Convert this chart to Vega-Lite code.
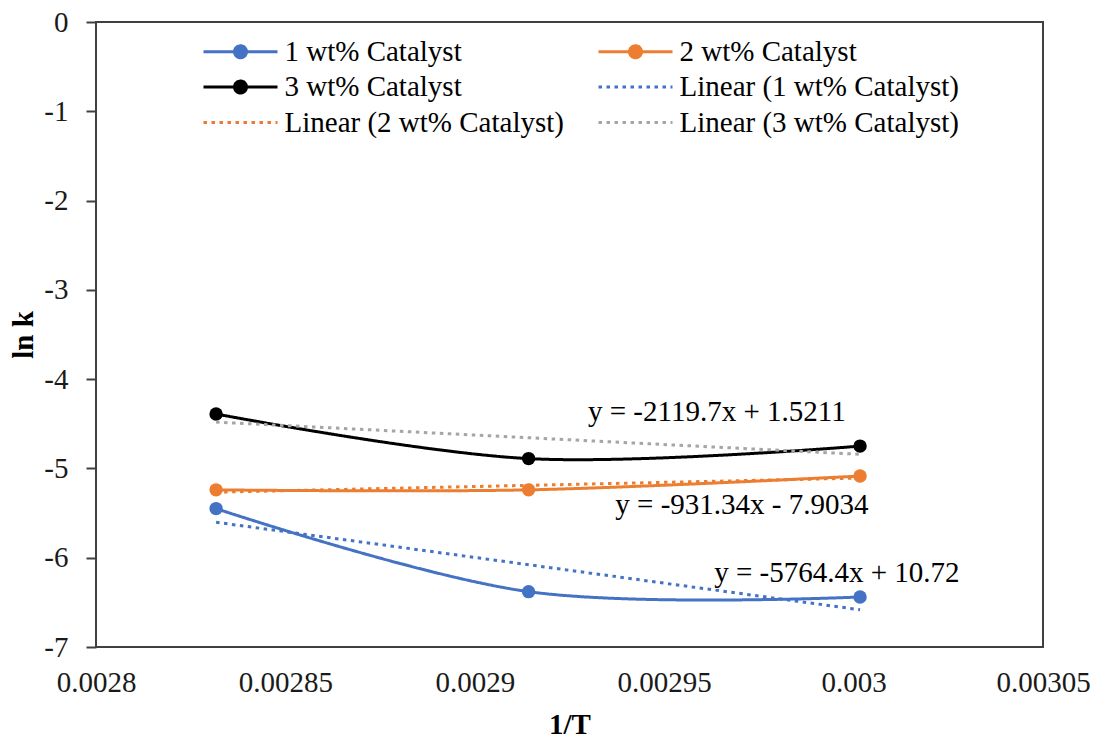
{
  "$schema": "https://vega.github.io/schema/vega-lite/v6.json",
  "width": 947,
  "height": 625,
  "autosize": {"type": "none"},
  "padding": {"left": 96, "top": 22, "right": 51, "bottom": 91},
  "background": "white",
  "config": {
    "view": {"stroke": "#404040", "strokeWidth": 2},
    "font": "Liberation Serif",
    "axis": {
      "grid": false,
      "labelFont": "Liberation Serif",
      "labelFontSize": 29,
      "labelColor": "#1a1a1a",
      "titleFont": "Liberation Serif",
      "titleFontSize": 29,
      "titleFontWeight": "bold",
      "titleColor": "#000000"
    }
  },
  "datasets": {
    "obs": [
      {"series": "1 wt% Catalyst", "invT": 0.0028317, "lnk": -5.45},
      {"series": "1 wt% Catalyst", "invT": 0.0029142, "lnk": -6.38},
      {"series": "1 wt% Catalyst", "invT": 0.0030017, "lnk": -6.44},
      {"series": "2 wt% Catalyst", "invT": 0.0028317, "lnk": -5.24},
      {"series": "2 wt% Catalyst", "invT": 0.0029142, "lnk": -5.24},
      {"series": "2 wt% Catalyst", "invT": 0.0030017, "lnk": -5.085},
      {"series": "3 wt% Catalyst", "invT": 0.0028317, "lnk": -4.39},
      {"series": "3 wt% Catalyst", "invT": 0.0029142, "lnk": -4.89},
      {"series": "3 wt% Catalyst", "invT": 0.0030017, "lnk": -4.75}
    ],
    "trend": [
      {"series": "Linear (1 wt% Catalyst)", "invT": 0.0028317, "lnk": -5.603},
      {"series": "Linear (1 wt% Catalyst)", "invT": 0.0030017, "lnk": -6.583},
      {"series": "Linear (2 wt% Catalyst)", "invT": 0.0028317, "lnk": -5.266},
      {"series": "Linear (2 wt% Catalyst)", "invT": 0.0030017, "lnk": -5.108},
      {"series": "Linear (3 wt% Catalyst)", "invT": 0.0028317, "lnk": -4.481},
      {"series": "Linear (3 wt% Catalyst)", "invT": 0.0030017, "lnk": -4.842}
    ],
    "eq": [
      {"label": "y = -2119.7x + 1.5211", "invT": 0.0029639, "lnk": -4.368},
      {"label": "y = -931.34x - 7.9034", "invT": 0.0029705, "lnk": -5.409},
      {"label": "y = -5764.4x + 10.72", "invT": 0.0029956, "lnk": -6.171}
    ]
  },
  "layer": [
    {
      "data": {"name": "obs"},
      "mark": {"type": "line", "interpolate": "catmull-rom", "strokeWidth": 3, "point": {"filled": true, "size": 180, "opacity": 1}},
      "encoding": {
        "x": {
          "field": "invT", "type": "quantitative", "title": "1/T",
          "scale": {"domain": [0.0028, 0.00305], "nice": false, "zero": false},
          "axis": {
            "values": [0.0028, 0.00285, 0.0029, 0.00295, 0.003, 0.00305],
            "labelExpr": "'' + datum.value",
            "ticks": false, "domain": false, "labelFlush": false, "labelOverlap": false,
            "labelPadding": 21,
            "titleX": 473.5, "titleY": 86, "titleAlign": "center", "titleBaseline": "alphabetic"
          }
        },
        "y": {
          "field": "lnk", "type": "quantitative", "title": "ln k",
          "scale": {"domain": [-7, 0], "nice": false, "zero": false},
          "axis": {
            "values": [-7, -6, -5, -4, -3, -2, -1, 0],
            "labelExpr": "'' + datum.value",
            "domain": false, "tickSize": 10, "tickColor": "#404040", "tickWidth": 2,
            "labelPadding": 18, "labelOverlap": false, "labelFlush": false,
            "titleX": -73, "titleY": 312.5, "titleAngle": 270, "titleAlign": "center", "titleBaseline": "middle"
          }
        },
        "color": {
          "field": "series", "type": "nominal", "title": null,
          "scale": {
            "domain": ["1 wt% Catalyst", "2 wt% Catalyst", "3 wt% Catalyst", "Linear (1 wt% Catalyst)", "Linear (2 wt% Catalyst)", "Linear (3 wt% Catalyst)"],
            "range": ["#4472C4", "#ED7D31", "#000000", "#4472C4", "#ED7D31", "#A5A5A5"]
          },
          "legend": {
            "orient": "none", "direction": "horizontal", "legendX": 103, "legendY": 15, "columns": 2, "columnPadding": 28, "rowPadding": 5.5,
            "labelFont": "Liberation Serif", "labelFontSize": 29, "labelColor": "#000000", "labelOffset": 56.5, "labelLimit": 500,
            "symbolSize": 400, "symbolStrokeWidth": 3,
            "encode": {
              "symbols": {
                "update": {
                  "shape": {"signal": "indexof(datum.value, 'Linear') == 0 ? 'M-1,0L6.4,0' : 'M-1,0L6.4,0M3.3,0A0.6,0.6,0,1,1,2.1,0A0.6,0.6,0,1,1,3.3,0Z'"},
                  "fill": {"scale": "color", "field": "value"},
                  "fillOpacity": {"value": 1}
                }
              }
            }
          }
        },
        "strokeDash": {
          "field": "series", "type": "nominal", "title": null,
          "scale": {
            "domain": ["1 wt% Catalyst", "2 wt% Catalyst", "3 wt% Catalyst", "Linear (1 wt% Catalyst)", "Linear (2 wt% Catalyst)", "Linear (3 wt% Catalyst)"],
            "range": [[1, 0], [1, 0], [1, 0], [3.5, 4.5], [3.5, 4.5], [3.5, 4.5]]
          }
        }
      }
    },
    {
      "data": {"name": "trend"},
      "mark": {"type": "line", "strokeWidth": 3},
      "encoding": {
        "x": {"field": "invT", "type": "quantitative"},
        "y": {"field": "lnk", "type": "quantitative"},
        "color": {"field": "series", "type": "nominal"},
        "strokeDash": {"field": "series", "type": "nominal"}
      }
    },
    {
      "data": {"name": "eq"},
      "mark": {"type": "text", "font": "Liberation Serif", "fontSize": 29, "align": "center", "baseline": "middle", "color": "#000000"},
      "encoding": {
        "x": {"field": "invT", "type": "quantitative"},
        "y": {"field": "lnk", "type": "quantitative"},
        "text": {"field": "label"}
      }
    }
  ]
}
